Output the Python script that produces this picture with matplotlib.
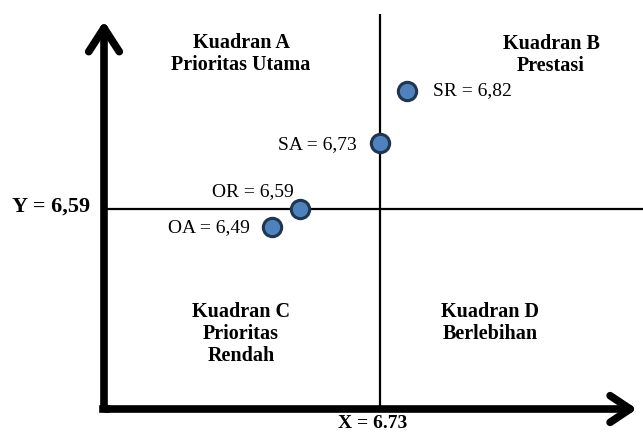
import matplotlib.pyplot as plt
from matplotlib.patches import FancyArrowPatch

# data
labels = ['SR = 6,82', 'SA = 6,73', 'OR = 6,59', 'OA = 6,49']
x_pos = [6.7975, 6.73, 6.53, 6.46]
y_pos = [6.885, 6.755, 6.59, 6.545]
x_mean = 6.73
y_mean = 6.59
quadrants = ['Kuadran A\nPrioritas Utama', 'Kuadran B\nPrestasi',
             'Kuadran C\nPrioritas\nRendah', 'Kuadran D\nBerlebihan']

W, H = 643, 432
fig = plt.figure(figsize=(W / 100, H / 100), dpi=100)
ax = fig.add_axes([0, 0, 1, 1])
ax.set_xlim(x_mean - 380 / 400, x_mean + 263 / 400)
ax.set_ylim(y_mean - 223 / 400, y_mean + 209 / 400)
ax.axis('off')


def fx(px):
    return px / W


def fy(py):
    return 1 - py / H


serif = ['Liberation Serif', 'DejaVu Serif']

# quadrant separator lines
ax.plot([x_mean, x_mean], [y_mean - 200 / 400, y_mean + 195 / 400], color='black', lw=1.6,
        solid_capstyle='butt')
ax.plot([x_mean - 276 / 400, x_mean + 263 / 400], [y_mean, y_mean], color='black', lw=1.6,
        solid_capstyle='butt')

# thick axes with open arrow heads
axes_arrows = [((fx(104), fy(408)), (fx(104), fy(21)), 0.85, 0.55),
               ((fx(105), fy(409)), (fx(637), fy(409)), 0.72, 0.48)]
for start, end, hl, hw in axes_arrows:
    arr = FancyArrowPatch(start, end, transform=ax.transAxes,
                          arrowstyle=f'->,head_length={hl},head_width={hw}',
                          mutation_scale=20, lw=5.5, color='black',
                          shrinkA=0, shrinkB=0,
                          capstyle='round', joinstyle='round')
    ax.add_patch(arr)
# square corner where the two axes meet
ax.plot([fx(102.5), fx(106)], [fy(409), fy(409)], transform=ax.transAxes, color='black',
        lw=5.5, solid_capstyle='projecting')

# points
ax.plot(x_pos, y_pos, 'o', ms=13.2, mfc='#4f81bd', mec='#1f3550', mew=2.2, zorder=5)

# point labels (offsets in pixels)
offsets = [(26, 0, 'left'), (-23, -2, 'right'), (-6, 17, 'right'), (-22, -1, 'right')]
for lab, x, y, (dx, dy, ha) in zip(labels, x_pos, y_pos, offsets):
    ax.annotate(lab, (x, y), xytext=(dx * 0.72, dy * 0.72), textcoords='offset points',
                ha=ha, va='center', fontsize=14, family=serif)

# quadrant labels
qpos = [(241, 54), (551, 55), (241, 334), (490, 323)]
for txt, (px, py) in zip(quadrants, qpos):
    ax.text(fx(px), fy(py), txt, transform=ax.transAxes, ha='center', va='center',
            fontsize=14.5, fontweight='bold', family=serif, linespacing=1.12)

ax.text(fx(51), fy(207), 'Y = 6,59', transform=ax.transAxes, ha='center', va='center',
        fontsize=16, fontweight='bold', family=serif)
ax.text(fx(373), fy(431.5), 'X = 6.73', transform=ax.transAxes, ha='center', va='bottom',
        fontsize=14, fontweight='bold', family=serif)

fig.savefig('out.png', dpi=100)
